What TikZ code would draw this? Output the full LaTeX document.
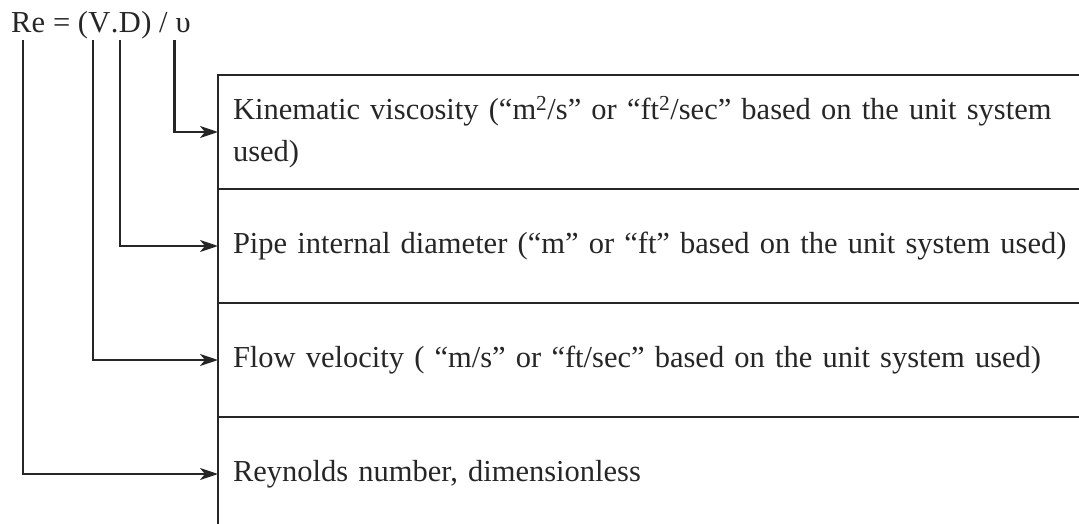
\documentclass[tikz,border=0pt]{standalone}
\usepackage{fontspec}
\setmainfont{Liberation Serif}
\usetikzlibrary{arrows.meta,positioning}
\definecolor{inkgray}{gray}{0.15}

\begin{document}
\begin{tikzpicture}[x=1pt, y=-1pt,
    every node/.style={font=\fontsize{30.5}{42}\selectfont, text=inkgray},
    sym/.style={inner sep=0pt, anchor=base west},
    rowbox/.style={draw=inkgray, line width=2.2pt, anchor=north west,
        minimum height=114pt, text width=870pt, inner xsep=15pt,
        align=left, outer sep=0pt},
    link/.style={draw=inkgray, line width=2.2pt,
        -{Stealth[length=18pt, width=12pt, inset=5pt]}}]

    % Fix the page size
    \useasboundingbox (0,0) rectangle (1079,524);

    % Define parameters
    \def\boxleft{218}   % Left edge of the table
    \def\boxtop{75}     % Top edge of the table

    % Write the formula, one piece per symbol
    \node[sym] (symRe) at (11,33) {Re};
    \node[sym] (symEq) at (symRe.base east) {\ =\ (};
    \node[sym] (symV) at (symEq.base east) {V};
    \node[sym] (symDot) at (symV.base east) {.};
    \node[sym] (symD) at (symDot.base east) {D};
    \node[sym] (symSl) at (symD.base east) {)\ /\ \ };
    \node[sym] (symNu) at (symSl.base east) {υ};

    % Draw the table, one row per quantity
    \node[rowbox] (rowNu) at (\boxleft,\boxtop)
        {Kinematic viscosity (“m\textsuperscript{2}/s” or “ft\textsuperscript{2}/sec” based on the unit system\\used)};
    \node[rowbox, below=0pt of rowNu] (rowD)
        {Pipe internal diameter (“m” or “ft” based on the unit system used)};
    \node[rowbox, below=0pt of rowD] (rowV)
        {Flow velocity ( “m/s” or “ft/sec” based on the unit system used)};
    \node[rowbox, below=0pt of rowV] (rowRe)
        {Reynolds number, dimensionless};

    % Link each symbol to its row
    \foreach \sym/\row/\dx in {symRe/rowRe/12, symV/rowV/5, symD/rowD/1, symNu/rowNu/-1} {
        \draw[link] ([xshift=\dx pt, yshift=-7pt]\sym.base west) |- (\row.west);
    }

\end{tikzpicture}
\end{document}
